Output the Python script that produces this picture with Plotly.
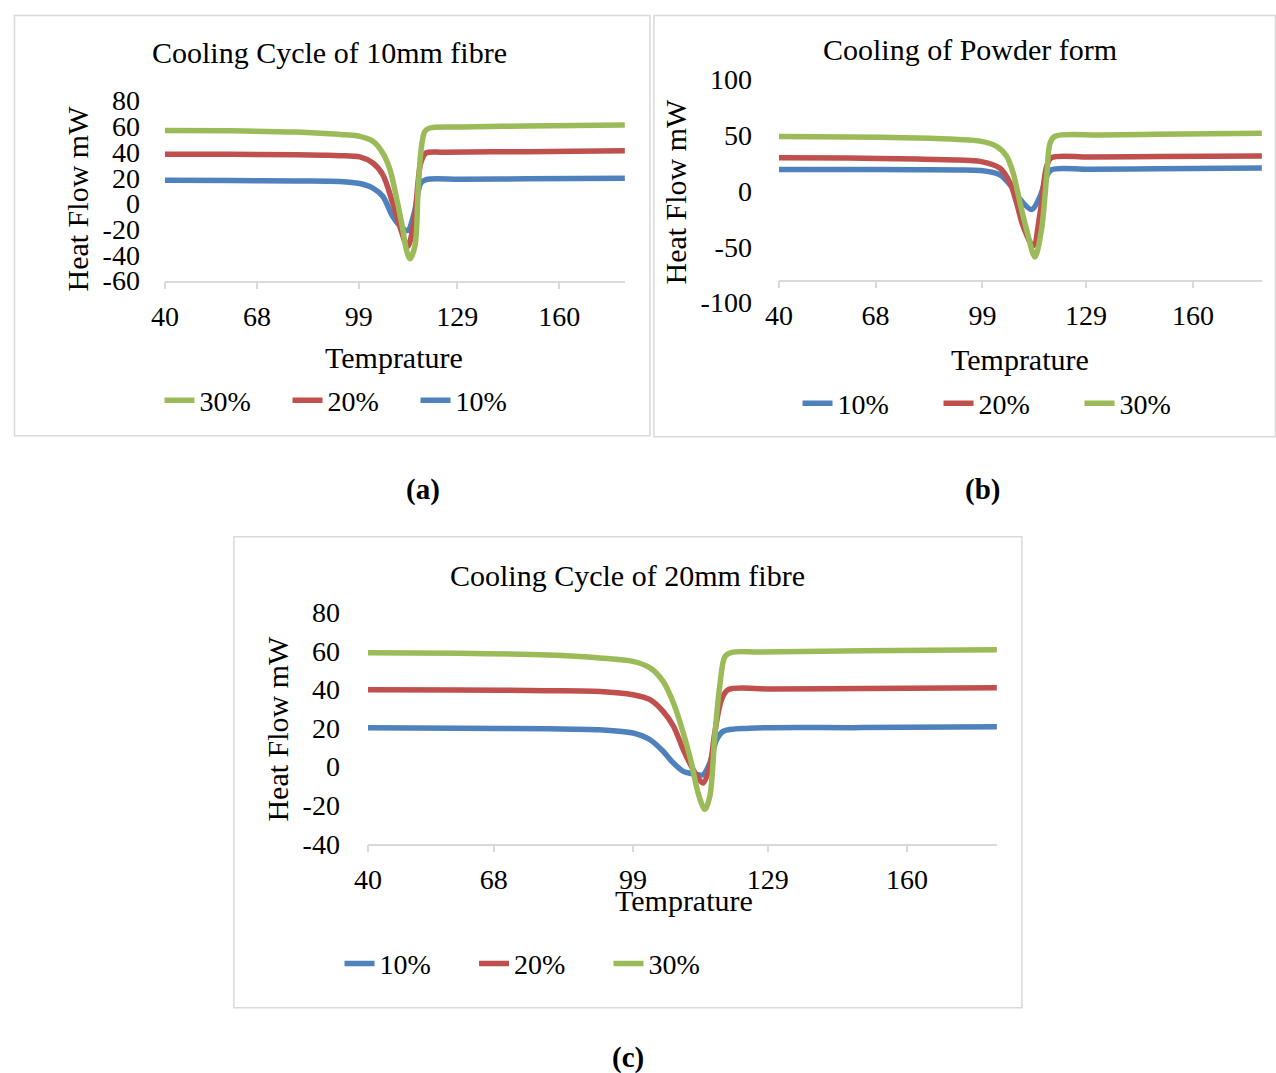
import plotly.graph_objects as go

W, H = 1276, 1073

# ---------------- data ----------------
tick_vals = [40, 68, 99, 129, 160]
series_names = ["10%", "20%", "30%"]
colors = ["#4f81bd", "#c0504d", "#9bbb59"]

# (a) Cooling Cycle of 10mm fibre
a_temp_10 = [40, 60, 80, 93.3, 99.3, 103.3, 106.3, 109.3, 111.8, 113.9, 115.9, 117.9, 119.5, 130, 150, 180]
a_flow_10 = [18.0, 17.8, 17.5, 17.1, 15.5, 12, 5.6, -10, -18, -21, -7, 16, 18.6, 18.8, 19.2, 19.7]
a_temp_20 = [40, 60, 80, 88, 93.3, 99.3, 103.3, 106.3, 109.3, 111.8, 113.9, 115.9, 117.9, 119.5, 125, 150, 180]
a_flow_20 = [38.3, 38.2, 37.8, 37.5, 37.2, 36.2, 31.5, 22.4, 0.6, -20.3, -33.5, -12.6, 31.8, 39.3, 39.8, 40.3, 41]
a_temp_30 = [40, 60, 80, 90, 95, 99.3, 103.3, 106.3, 108.5, 110.6, 112.4, 113.5, 114.6, 116.1, 117.1, 118.1, 119.1, 120.6, 130, 150, 180]
a_flow_30 = [56.8, 56.5, 55.5, 54.3, 53.4, 52.2, 48.4, 39.3, 26.3, 3, -20, -36, -43, -33, 13, 44.5, 56, 58.7, 59.5, 60.2, 61]

# (b) Cooling of Powder form
b_temp_10 = [40, 60, 80, 92, 98.3, 104, 107, 110, 113.3, 115.7, 117.6, 119, 130, 150, 180]
b_flow_10 = [19.5, 19.4, 19.2, 19, 18.5, 14.7, 5.7, -7.7, -16.5, -4.7, 13.2, 19.2, 19.6, 20.1, 20.7]
b_temp_20 = [40, 60, 80, 92, 98.3, 104, 107, 108.9, 110.8, 113.7, 115.7, 117.6, 119, 130, 150, 180]
b_flow_20 = [30, 29.6, 28.8, 27.8, 26.7, 20.7, 7.3, -10.7, -31.6, -49, -19.7, 22.2, 30, 30.5, 31, 31.5]
b_temp_30 = [40, 60, 80, 92, 98.3, 103.1, 106, 107.9, 109.9, 111.8, 114.2, 116.1, 117.6, 118.6, 120, 133, 150, 180]
b_flow_30 = [49, 48.6, 47.6, 46.3, 44.8, 40.1, 31.2, 16.2, -10.7, -34.6, -59, -34.6, 13.2, 43.2, 49.2, 50.4, 51, 52]

# (c) Cooling Cycle of 20mm fibre
c_temp_10 = [40, 60, 80, 91.6, 99, 102.8, 105.7, 108, 110.2, 112, 113.5, 114.6, 116.1, 117.6, 119.1, 125, 150, 180]
c_flow_10 = [20.2, 20, 19.7, 19.2, 17.5, 14, 8, 1.9, -2.4, -3.6, -4.2, -4.2, 1.9, 14, 18.4, 20, 20.3, 20.7]
c_temp_20 = [40, 60, 80, 91.6, 99, 102.8, 105.7, 108, 110.2, 112, 113.5, 114.6, 116.1, 117.2, 118.7, 120.2, 130, 150, 180]
c_flow_20 = [40, 39.8, 39.5, 39.1, 37.4, 34.8, 28.7, 21, 8.8, 0.2, -5.9, -8.5, 0.2, 17.6, 34.8, 40, 40.3, 40.6, 41]
c_temp_30 = [40, 60, 80, 91.6, 99, 102.8, 105.7, 108, 110.2, 112, 113.5, 115, 116.1, 117.2, 118.3, 119.5, 121, 127.2, 150, 180]
c_flow_30 = [59.2, 58.9, 58, 56.5, 54.7, 51.3, 44.3, 33.1, 17.5, 1.9, -13.7, -22.3, -15.4, 15.7, 41.7, 57.3, 59.4, 59.6, 60.2, 60.8]

a_yticks = [-60, -40, -20, 0, 20, 40, 60, 80]
b_yticks = [-100, -50, 0, 50, 100]
c_yticks = [-40, -20, 0, 20, 40, 60, 80]

titles = ["Cooling Cycle of 10mm fibre", "Cooling of Powder form", "Cooling Cycle of 20mm fibre"]
x_title = "Temprature"
y_title = "Heat Flow mW"
captions = ["(a)", "(b)", "(c)"]

# ---------------- helpers ----------------
FONT = "Liberation Serif, Times New Roman, serif"
# the photographed page comes out slightly offset/scaled; map target pixel -> figure paper
SX, OX, SY, OY = 0.989, 14.1, 0.971, 15.4
def px(x):
    return max((x - OX) / SX, 0.5) / W
def py(y):
    return 1 - max((y - OY) / SY, 0.5) / H

fig = go.Figure()

panels = [
    ([a_temp_10, a_temp_20, a_temp_30], [a_flow_10, a_flow_20, a_flow_30], "x", "y", "legend"),
    ([b_temp_10, b_temp_20, b_temp_30], [b_flow_10, b_flow_20, b_flow_30], "x2", "y2", "legend2"),
    ([c_temp_10, c_temp_20, c_temp_30], [c_flow_10, c_flow_20, c_flow_30], "x3", "y3", "legend3"),
]
for temps, flows, xa, ya, lg in panels:
    for name, col, t, f in zip(series_names, colors, temps, flows):
        fig.add_trace(go.Scatter(
            x=t, y=f, name=name, mode="lines", xaxis=xa, yaxis=ya, legend=lg,
            line=dict(color=col, width=5.5, shape="spline", smoothing=0.9),
        ))

xcommon = dict(range=[40, 180], tickmode="array", tickvals=tick_vals,
               showline=True, linecolor="#d9d9d9", linewidth=1.5,
               ticks="outside", ticklen=7, tickcolor="#d9d9d9", tickwidth=1.5,
               showgrid=False, zeroline=False, ticklabelstandoff=3,
               tickfont=dict(family=FONT, size=28, color="black"))
ycommon = dict(showline=False, showgrid=False, zeroline=False, ticks="",
               tickmode="array",
               tickfont=dict(family=FONT, size=28, color="black"))

def ylab(vals):
    return [str(v) for v in vals]

fig.update_layout(
    width=W, height=H, margin=dict(l=0, r=0, t=0, b=0),
    paper_bgcolor="white", plot_bgcolor="white",
    xaxis=dict(domain=[px(165), px(625)], anchor="y", **xcommon),
    yaxis=dict(domain=[py(281), py(101)], range=[-60, 80], anchor="x",
               tickvals=a_yticks, ticktext=ylab(a_yticks), ticklabelstandoff=24, **ycommon),
    xaxis2=dict(domain=[px(779), px(1262)], anchor="free", position=py(281), **xcommon),
    yaxis2=dict(domain=[py(303), py(80)], range=[-100, 100], anchor="x2",
                tickvals=b_yticks, ticktext=ylab(b_yticks), ticklabelstandoff=26, **ycommon),
    xaxis3=dict(domain=[px(368), px(997)], anchor="y3", **xcommon),
    yaxis3=dict(domain=[py(844), py(613)], range=[-40, 80], anchor="x3",
                tickvals=c_yticks, ticktext=ylab(c_yticks), ticklabelstandoff=27, **ycommon),
)

legend_common = dict(orientation="h", bgcolor="rgba(0,0,0,0)",
                     font=dict(family=FONT, size=28, color="black"),
                     entrywidthmode="pixels", xanchor="left", yanchor="middle")
fig.update_layout(
    legend=dict(x=px(159.6), y=py(401), traceorder="reversed", entrywidth=83, **legend_common),
    legend2=dict(x=px(797.6), y=py(404), traceorder="normal", entrywidth=96, **legend_common),
    legend3=dict(x=px(339.6), y=py(964), traceorder="normal", entrywidth=89.5, **legend_common),
)

# borders of the three chart boxes
for x0, y0, x1, y1 in [(10, 15, 650, 436), (654, 12, 1275.5, 437), (234, 537, 1022, 1008)]:
    fig.add_shape(type="rect", xref="paper", yref="paper",
                  x0=px(x0), y0=py(y0), x1=min(px(x1), 1 - 0.5 / W), y1=py(y1),
                  line=dict(color="#d9d9d9", width=1.5), fillcolor="rgba(0,0,0,0)", layer="below")

ann = []
for txt, (cx, cy) in zip(titles, [(330, 53), (970, 50), (628, 576)]):
    ann.append(dict(text=txt, x=px(cx), y=py(cy), xref="paper", yref="paper",
                    showarrow=False, xanchor="center", yanchor="middle",
                    font=dict(family=FONT, size=30, color="black")))
for (cx, cy) in [(394, 358), (1020, 360), (684, 901)]:
    ann.append(dict(text=x_title, x=px(cx), y=py(cy), xref="paper", yref="paper",
                    showarrow=False, xanchor="center", yanchor="middle",
                    font=dict(family=FONT, size=30, color="black")))
for (cx, cy) in [(78, 199), (676, 192), (278, 729)]:
    ann.append(dict(text=y_title, x=px(cx), y=py(cy), xref="paper", yref="paper",
                    showarrow=False, xanchor="center", yanchor="middle", textangle=-90,
                    font=dict(family=FONT, size=30, color="black")))
for txt, (cx, cy) in zip(captions, [(423, 490), (983, 490), (628, 1058)]):
    ann.append(dict(text="<b>" + txt + "</b>", x=px(cx), y=py(cy), xref="paper", yref="paper",
                    showarrow=False, xanchor="center", yanchor="middle",
                    font=dict(family=FONT, size=29, color="black")))
fig.update_layout(annotations=ann)

fig.write_html("out.html")
